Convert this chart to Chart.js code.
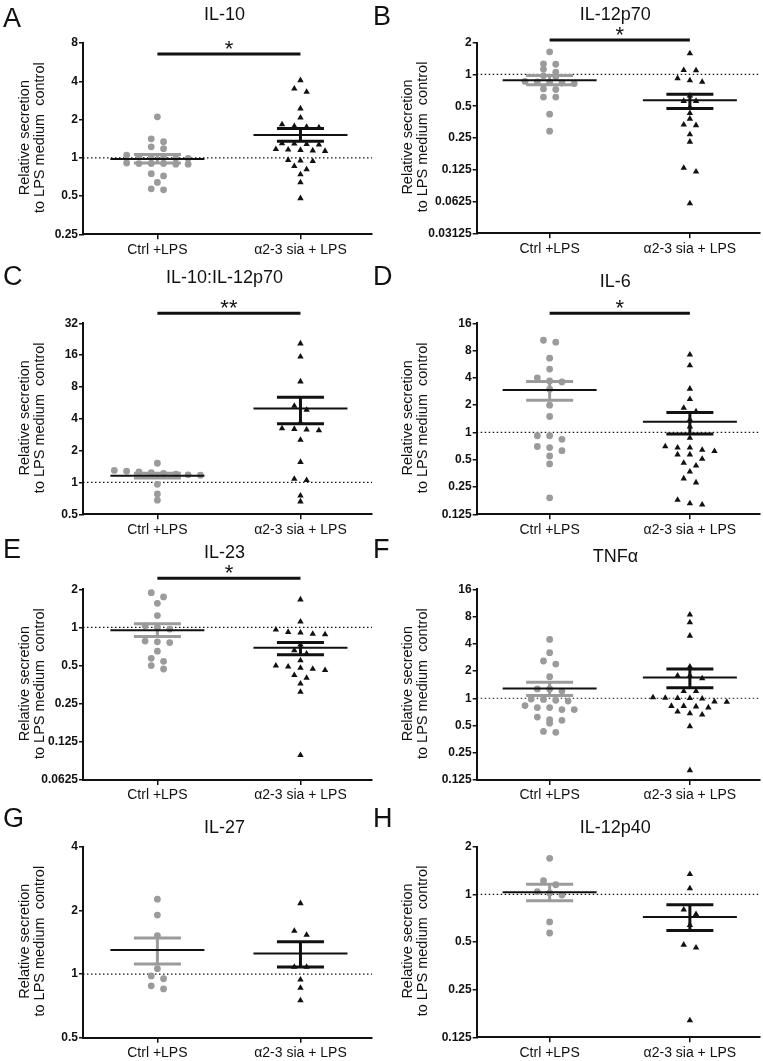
<!DOCTYPE html>
<html>
<head>
<meta charset="utf-8">
<script src="https://cdn.jsdelivr.net/npm/chart.js@4.4.0/dist/chart.umd.min.js"></script>
<style>
  body { margin: 0; background: #fff; width: 763px; height: 1061px; position: relative; overflow: hidden; }
  canvas { position: absolute; }
</style>
</head>
<body>
<script>
// ---- data ----
const groups = ["Ctrl +LPS", "α2-3 sia + LPS"];
const panelLetters = ["A", "B", "C", "D", "E", "F", "G", "H"];
const panelTitles = ["IL-10", "IL-12p70", "IL-10:IL-12p70", "IL-6", "IL-23", "TNFα", "IL-27", "IL-12p40"];
const significance = ["*", "*", "**", "*", "*", "", "", ""];

const yTicks = [
  [0.25, 0.5, 1, 2, 4, 8],
  [0.03125, 0.0625, 0.125, 0.25, 0.5, 1, 2],
  [0.5, 1, 2, 4, 8, 16, 32],
  [0.125, 0.25, 0.5, 1, 2, 4, 8, 16],
  [0.0625, 0.125, 0.25, 0.5, 1, 2],
  [0.125, 0.25, 0.5, 1, 2, 4, 8, 16],
  [0.5, 1, 2, 4],
  [0.125, 0.25, 0.5, 1, 2]
];

const ctrlValues = [
  [2.1, 1.41, 1.34, 1.22, 1.18, 1.05, 1.02, 1.0, 1.0, 0.99, 0.99, 0.91, 0.9, 0.9, 0.9, 0.89, 0.89, 0.75, 0.72, 0.64, 0.57, 0.56],
  [1.64, 1.26, 1.25, 1.12, 1.05, 0.97, 0.95, 0.86, 0.85, 0.84, 0.83, 0.82, 0.73, 0.72, 0.61, 0.61, 0.42, 0.29],
  [1.52, 1.3, 1.28, 1.26, 1.24, 1.22, 1.2, 1.18, 1.17, 0.96, 0.78, 0.68],
  [10.4, 9.9, 6.6, 5.0, 4.0, 3.7, 3.6, 3.0, 2.0, 1.5, 0.92, 0.92, 0.84, 0.7, 0.68, 0.63, 0.55, 0.45, 0.19],
  [1.88, 1.74, 1.55, 1.24, 1.03, 1.0, 0.97, 0.78, 0.77, 0.76, 0.65, 0.57, 0.54, 0.5, 0.47],
  [4.47, 3.19, 2.58, 2.39, 1.73, 1.27, 1.27, 1.2, 0.98, 0.97, 0.95, 0.93, 0.83, 0.79, 0.79, 0.75, 0.75, 0.62, 0.58, 0.57, 0.53, 0.43, 0.42],
  [2.26, 1.9, 1.52, 1.06, 0.98, 0.95, 0.88, 0.85],
  [1.69, 1.22, 1.15, 1.04, 1.02, 0.99, 0.67, 0.57]
];
const siaValues = [
  [4.07, 3.5, 3.3, 2.44, 2.07, 1.83, 1.77, 1.75, 1.73, 1.3, 1.29, 1.28, 1.27, 1.17, 1.16, 1.15, 1.14, 1.13, 0.96, 0.95, 0.94, 0.86, 0.81, 0.74, 0.64, 0.48],
  [1.58, 1.1, 1.09, 0.92, 0.88, 0.85, 0.63, 0.56, 0.56, 0.49, 0.43, 0.38, 0.335, 0.33, 0.27, 0.23, 0.13, 0.12, 0.06],
  [20.6, 15.5, 9.0, 5.3, 4.85, 3.7, 3.25, 3.2, 3.15, 3.1, 2.53, 1.56, 1.08, 1.05, 0.75, 0.66],
  [7.2, 5.5, 3.03, 2.33, 1.86, 1.7, 1.38, 1.16, 0.87, 0.7, 0.68, 0.68, 0.64, 0.62, 0.57, 0.57, 0.51, 0.46, 0.43, 0.37, 0.31, 0.28, 0.18, 0.165, 0.16],
  [1.66, 1.11, 0.96, 0.92, 0.91, 0.89, 0.88, 0.73, 0.66, 0.62, 0.55, 0.5, 0.49, 0.48, 0.47, 0.46, 0.42, 0.4, 0.36, 0.31, 0.098],
  [8.4, 6.9, 4.9, 2.23, 1.78, 1.78, 1.66, 1.2, 1.2, 1.02, 1.01, 1.0, 1.0, 0.99, 0.92, 0.91, 0.82, 0.82, 0.81, 0.79, 0.71, 0.68, 0.66, 0.49, 0.16],
  [2.16, 1.6, 1.53, 1.08, 1.08, 0.94, 0.86, 0.75],
  [1.34, 1.09, 0.8, 0.75, 0.64, 0.48, 0.46, 0.16]
];

const ctrlMean    = [0.98, 0.88, 1.16, 2.94, 0.95, 1.28, 1.30, 1.03];
const ctrlSemLow  = [0.91, 0.80, 1.10, 2.27, 0.85, 1.07, 1.115, 0.91];
const ctrlSemHigh = [1.06, 0.98, 1.22, 3.65, 1.07, 1.50, 1.48, 1.16];
const siaMean     = [1.51, 0.57, 5.0, 1.31, 0.69, 1.70, 1.25, 0.72];
const siaSemLow   = [1.35, 0.476, 3.6, 0.96, 0.61, 1.31, 1.08, 0.59];
const siaSemHigh  = [1.70, 0.65, 6.4, 1.66, 0.76, 2.10, 1.42, 0.86];

// ---- layout / style ----
const XMIN = 0.48, XMAX = 2.5;
const Y_AXIS_W = 55, X_AXIS_H = 22;
const ROW_PX = 5, STEP_PX = 12.3, MEAN_HALF_PX = 47, CAP_HALF_PX = 23.5;
const GREY = "#9b9b9b", INK = "#111";
const FONT = '"Liberation Sans", Arial, Helvetica, sans-serif';

const COLS = [
  { x: 0, w: 376, axisL: 83, axisR: 372, letterX: 3, ytX: [25, 39.5] },
  { x: 368, w: 395, axisL: 476.7, axisR: 760, letterX: 373, ytX: [408, 422.7] }
];
const ROWS = [{ y: 0, h: 262 }, { y: 262, h: 280 }, { y: 528, h: 280 }, { y: 798, h: 263 }];
const FRAMES = [
  { top: 43, bottom: 234.3, titleY: 15, letterY: 27, sigY: 54 },
  { top: 42.7, bottom: 233.3, titleY: 15, letterY: 25, sigY: 40 },
  { top: 323.3, bottom: 514.3, titleY: 278, letterY: 285, sigY: 313.3 },
  { top: 323.3, bottom: 514.3, titleY: 281.7, letterY: 285, sigY: 313.3 },
  { top: 589.3, bottom: 780, titleY: 553, letterY: 558, sigY: 578.3 },
  { top: 589.3, bottom: 780, titleY: 556.7, letterY: 558, sigY: 0 },
  { top: 846.7, bottom: 1037.7, titleY: 828.3, letterY: 827, sigY: 0 },
  { top: 846.7, bottom: 1037.3, titleY: 828.3, letterY: 827, sigY: 0 }
];

Chart.defaults.font.family = FONT;
Chart.defaults.color = INK;

// Prism-like column scatter: points that sit within ROW_PX of each other share a row
function swarm(values, center, ppd, ppu) {
  const sorted = values.slice().sort((a, b) => b - a);
  const pts = [];
  let i = 0;
  while (i < sorted.length) {
    let j = i;
    while (j < sorted.length && Math.log2(sorted[i] / sorted[j]) * ppd < ROW_PX) j++;
    const n = j - i;
    for (let k = 0; k < n; k++) {
      pts.push({ x: center + (k - (n - 1) / 2) * STEP_PX / ppu, y: sorted[i + k] });
    }
    i = j;
  }
  return pts;
}

function seg(x1, x2, y1, y2, color, width, order) {
  return {
    data: [{ x: x1, y: y1 }, { x: x2, y: y2 }],
    showLine: true, borderColor: color, borderWidth: width,
    pointRadius: 0, borderCapStyle: "butt", order: order
  };
}

function meanSem(center, mean, lo, hi, color, ppu) {
  const mh = MEAN_HALF_PX / ppu, ch = CAP_HALF_PX / ppu;
  return [
    seg(center - mh, center + mh, mean, mean, INK, 2, 1),
    seg(center - ch, center + ch, hi, hi, color, 3, 2),
    seg(center - ch, center + ch, lo, lo, color, 3, 2),
    seg(center, center, lo, hi, color, 3, 2)
  ];
}

function decoPlugin(i, col, row, fr) {
  return {
    id: "deco" + i,
    afterDraw(chart) {
      const ctx = chart.ctx;
      const area = chart.chartArea;
      ctx.save();
      ctx.fillStyle = INK;
      // panel letter
      ctx.font = "27px " + FONT;
      ctx.textAlign = "left";
      ctx.textBaseline = "alphabetic";
      ctx.fillText(panelLetters[i], col.letterX - col.x, fr.letterY - row.y);
      // title
      ctx.font = "18px " + FONT;
      ctx.textAlign = "center";
      ctx.textBaseline = "middle";
      ctx.fillText(panelTitles[i], (area.left + area.right) / 2 - 3, fr.titleY - row.y);
      // y axis title (two lines)
      ctx.font = "14.5px " + FONT;
      const cy = (area.top + area.bottom) / 2 - 1;
      ["Relative secretion", "to LPS medium  control"].forEach((t, k) => {
        ctx.save();
        ctx.translate(col.ytX[k] - col.x, cy);
        ctx.rotate(-Math.PI / 2);
        ctx.fillText(t, 0, 0);
        ctx.restore();
      });
      // significance bar
      if (significance[i]) {
        const xs = chart.scales.x;
        const x1 = xs.getPixelForValue(1), x2 = xs.getPixelForValue(2);
        const y = fr.sigY - row.y;
        ctx.strokeStyle = INK;
        ctx.lineWidth = 3;
        ctx.beginPath();
        ctx.moveTo(x1, y);
        ctx.lineTo(x2, y);
        ctx.stroke();
        ctx.font = "22px " + FONT;
        ctx.textBaseline = "alphabetic";
        ctx.fillText(significance[i], (x1 + x2) / 2, y + 2);
      }
      ctx.restore();
    }
  };
}

for (let i = 0; i < 8; i++) {
  const col = COLS[i % 2], row = ROWS[Math.floor(i / 2)], fr = FRAMES[i];
  const canvas = document.createElement("canvas");
  canvas.width = col.w;
  canvas.height = row.h;
  canvas.style.left = col.x + "px";
  canvas.style.top = row.y + "px";
  document.body.appendChild(canvas);

  const ticks = yTicks[i];
  const ymin = ticks[0], ymax = ticks[ticks.length - 1];
  const ppd = (fr.bottom - fr.top) / Math.log2(ymax / ymin);
  const ppu = (col.axisR - col.axisL) / (XMAX - XMIN);

  const datasets = [
    {
      data: [{ x: XMIN, y: 1 }, { x: XMAX, y: 1 }],
      showLine: true, borderColor: INK, borderWidth: 1.2, borderDash: [1.5, 2.5],
      pointRadius: 0, order: 9
    },
    {
      data: swarm(ctrlValues[i], 1, ppd, ppu),
      pointStyle: "circle", pointRadius: 3.4, pointBackgroundColor: GREY,
      pointBorderWidth: 0, order: 5, clip: false
    },
    {
      data: swarm(siaValues[i], 2, ppd, ppu),
      pointStyle: "triangle", pointRadius: 3.7, pointBackgroundColor: INK,
      pointBorderWidth: 0, order: 5, clip: false
    },
    ...meanSem(1, ctrlMean[i], ctrlSemLow[i], ctrlSemHigh[i], GREY, ppu),
    ...meanSem(2, siaMean[i], siaSemLow[i], siaSemHigh[i], INK, ppu)
  ];

  new Chart(canvas, {
    type: "scatter",
    data: { datasets },
    options: {
      responsive: false,
      animation: false,
      events: [],
      layout: {
        autoPadding: false,
        padding: {
          left: col.axisL - col.x - Y_AXIS_W,
          right: col.x + col.w - col.axisR,
          top: fr.top - row.y,
          bottom: row.y + row.h - fr.bottom - X_AXIS_H
        }
      },
      plugins: { legend: { display: false }, tooltip: { enabled: false } },
      scales: {
        x: {
          type: "linear", min: XMIN, max: XMAX,
          afterBuildTicks: s => { s.ticks = [{ value: 1 }, { value: 2 }]; },
          afterFit: s => { s.height = X_AXIS_H; },
          ticks: { callback: v => groups[v - 1], color: INK, font: { size: 14 }, padding: 2, maxRotation: 0, autoSkip: false },
          grid: { drawOnChartArea: false, color: INK, lineWidth: 1.5, tickLength: 5 },
          border: { color: INK, width: 2 }
        },
        y: {
          type: "logarithmic", min: ymin, max: ymax,
          afterBuildTicks: s => { s.ticks = ticks.map(v => ({ value: v })); },
          afterFit: s => { s.width = Y_AXIS_W; },
          ticks: { callback: v => String(v), color: INK, font: { size: 12, weight: "bold" }, padding: 1, autoSkip: false },
          grid: { drawOnChartArea: false, color: INK, lineWidth: 1.5, tickLength: 4 },
          border: { color: INK, width: 2 }
        }
      }
    },
    plugins: [decoPlugin(i, col, row, fr)]
  });
}
</script>
</body>
</html>
